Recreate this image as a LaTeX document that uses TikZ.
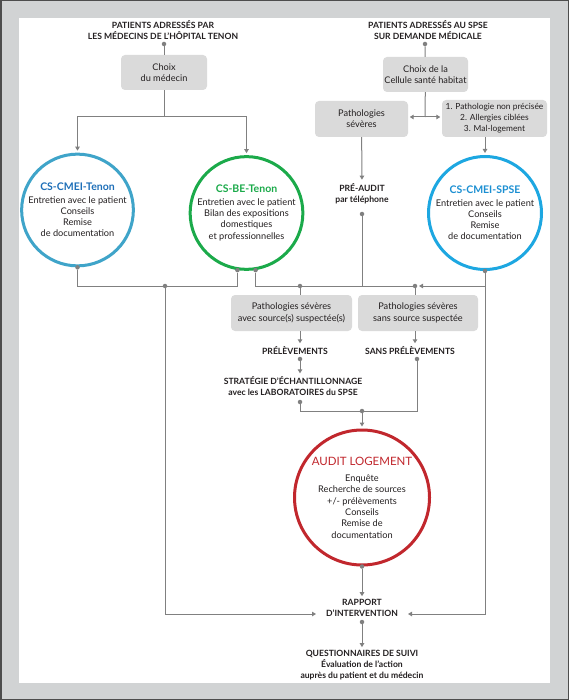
\documentclass[tikz,border=0pt]{standalone}
\usepackage{fontspec}
\setmainfont{Lato}
\usetikzlibrary{arrows.meta}
\definecolor{ln}{HTML}{808080}
\definecolor{band}{HTML}{D1D3D4}
\definecolor{frame}{HTML}{4D4D4D}
\definecolor{boxg}{HTML}{DADADA}
\definecolor{tx}{HTML}{231F20}
\definecolor{cTen}{HTML}{3FA4C9}
\definecolor{cTenT}{HTML}{1E6FB8}
\definecolor{cBE}{HTML}{1BAA4A}
\definecolor{cSP}{HTML}{1DA7E1}
\definecolor{cSPT}{HTML}{1B8FD2}
\definecolor{cAu}{HTML}{C1272D}
\newcommand\myttl{\bfseries\fontsize{10.5}{13}\selectfont}
\tikzset{
  txt/.style={align=center, font=\fontsize{9.2}{11.3}\selectfont, inner sep=0pt, text=tx},
  hd/.style={align=center, font=\bfseries\fontsize{8.6}{10.8}\selectfont, inner sep=0pt, text=tx},
  gbox/.style={txt, fill=boxg, rounded corners=4pt},
  circ/.style={circle, line width=3pt, inner sep=0pt, align=center, text=tx, font=\fontsize{9.2}{11.3}\selectfont},
  dot/.style={circle, fill=ln, inner sep=0pt, minimum size=4.5pt},
  conn/.style={draw=ln, line width=1pt},
  arr/.style={draw=ln, line width=1pt, -{Triangle[length=4pt,width=4.5pt]}}
}
\begin{document}
\begin{tikzpicture}[x=1pt,y=-1pt]
\useasboundingbox (0,0) rectangle (569,700);
\fill[band, draw=frame, line width=1.5pt] (0.75,0.75) rectangle (568.25,699.25);
\fill[white] (19,18) rectangle (550,683);

% left top
\node[hd] (t1) at (163,30) {PATIENTS ADRESSÉS PAR\\LES MÉDECINS DE L’HÔPITAL TENON};
\node[dot] (d1) at (164,44) {};
\node[gbox, minimum width=86pt, minimum height=35pt] (ch1) at (164,72.5) {Choix\\du médecin};
\coordinate (j1) at (164,117);
\node[circ, draw=cTen, minimum size=111pt] (cmT) at (77.5,210)
  {{\myttl\color{cTenT}CS-CMEI-Tenon}\\[1pt]Entretien avec le patient\\Conseils\\Remise\\de documentation};
\node[circ, draw=cBE, minimum size=112pt] (beT) at (246.5,213)
  {{\myttl\color{cBE}CS-BE-Tenon}\\[1pt]Entretien avec le patient\\Bilan des expositions\\domestiques\\et professionnelles};
\draw[conn] (d1) -- (ch1);
\draw[conn] (ch1) -- (j1);
\draw[arr, shorten >=2pt] (j1) -| (cmT);
\draw[arr, shorten >=2pt] (j1) -| (beT);

% right top
\node[hd] (t2) at (428,30) {PATIENTS ADRESSÉS AU SPSE\\SUR DEMANDE MÉDICALE};
\node[dot] (d2) at (425,44) {};
\node[gbox, minimum width=85pt, minimum height=35pt] (ch2) at (425.5,74.5) {Choix de la\\Cellule santé habitat};
\coordinate (j2) at (425,117);
\node[gbox, minimum width=93pt, minimum height=36pt] (pS) at (361.5,119) {Pathologies\\sévères};
\node[gbox, minimum width=105pt, minimum height=37pt, font=\fontsize{8.4}{11}\selectfont] (lst) at (494.5,118.5) {1. Pathologie non précisée\\2. Allergies ciblées\\3. Mal-logement};
\node[circ, draw=cSP, minimum size=113pt] (spse) at (485,213)
  {{\myttl\color{cSPT}CS-CMEI-SPSE}\\[1pt]Entretien avec le patient\\Conseils\\Remise\\de documentation};
\draw[conn] (d2) -- (ch2);
\draw[conn] (ch2) -- (j2);
\draw[arr, shorten >=1.5pt] (j2) -- (pS.east |- j2);
\draw[arr, shorten >=1.5pt] (j2) -- (lst.west |- j2);
\draw[arr, shorten >=2pt] (lst.south -| spse.north) -- (spse.north);

\node[hd] (pre) at (362,194) {PRÉ-AUDIT\\par téléphone};
\draw[arr, shorten >=4pt] (pS) -- (pre.north);
\node[dot] (d3) at (362,214) {};

% bottom of circles
\node[dot] (dT) at (cmT.south) {};
\node[dot] (dB1) at (beT.261) {};
\node[dot] (dB2) at (beT.279) {};
\node[dot] (dS) at (spse.south) {};
\node[dot] (jL) at (165,286) {};
\node[dot] (dP1) at (300,286) {};
\node[dot] (dP2) at (415,286) {};
\coordinate (aS) at (419,286);
\draw[conn] (dT) |- (jL) -| (dB1);
\draw[conn] (dB2) |- (dP2);
\draw[conn] (d3) -- (d3 |- dP1);
\draw[arr] (dS) |- (aS);

% pathology boxes
\node[gbox, minimum width=121pt, minimum height=36pt] (p1) at (291.5,313) {Pathologies sévères\\avec source(s) suspectée(s)};
\node[gbox, minimum width=120pt, minimum height=36pt] (p2) at (418,313) {Pathologies sévères\\sans source suspectée};
\draw[conn] (dP1) -- (dP1 |- p1.north);
\draw[conn] (dP2) -- (dP2 |- p2.north);

\node[hd] (prel) at (295,351) {PRÉLÈVEMENTS};
\node[hd] (sprel) at (410,351) {SANS PRÉLÈVEMENTS};
\draw[arr, shorten >=3.5pt] (p1.south -| dP1) -- (dP1 |- prel.north);
\draw[arr, shorten >=3.5pt] (p2.south -| dP2) -- (dP2 |- sprel.north);
\node[dot] (dPr) at (300,359) {};
\node[dot] (dSa) at (417,359) {};

\node[hd] (strat) at (293,386) {STRATÉGIE D’ÉCHANTILLONNAGE\\avec les LABORATOIRES du SPSE};
\draw[arr, shorten >=3pt] (dPr) -- (dPr |- strat.north);
\node[dot] (dSt) at (300,402) {};
\node[dot] (jA) at (362,411) {};
\draw[conn] (dSt) |- (jA) -| (dSa);

% audit
\node[circ, draw=cAu, minimum size=135pt] (aud) at (362,497.5)
  {{\fontsize{11.5}{14}\selectfont\color{cAu}AUDIT LOGEMENT}\\[5pt]Enquête\\Recherche de sources\\+/- prélèvements\\Conseils\\Remise de\\documentation};
\draw[arr, shorten >=2pt] (jA) -- (aud);
\node[dot] (dA) at (aud.south) {};

% rapport
\node[hd] (rap) at (362,608) {RAPPORT\\D’INTERVENTION};
\draw[arr, shorten >=3pt] (dA) -- (rap.north);
\coordinate (rl) at (316,614);
\coordinate (rr) at (408,614);
\draw[arr] (jL) |- (rl);
\draw[arr] (dS) |- (rr);
\node[dot] (dR) at (362,622) {};

\node[hd] (q) at (362,665) {QUESTIONNAIRES DE SUIVI\\Évaluation de l’action\\auprès du patient et du médecin};
\draw[arr, shorten >=3pt] (dR) -- (q.north);
\end{tikzpicture}
\end{document}
